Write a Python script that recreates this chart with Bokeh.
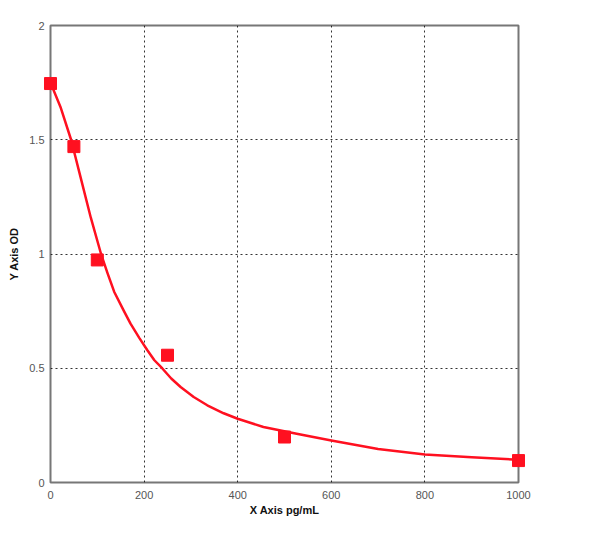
from bokeh.plotting import figure
from bokeh.embed import file_html
from bokeh.resources import INLINE
from bokeh.models import FixedTicker, Range1d

# Standard points (concentration pg/mL, OD)
std_conc = [0, 50, 100, 250, 500, 1000]
std_od = [1.746, 1.47, 0.974, 0.557, 0.199, 0.096]

# Fitted curve
curve_x = [0, 22, 44, 65, 86, 108, 122, 136, 157, 171, 190, 207, 222, 239, 258, 278, 306, 335, 370, 400,
           455, 526, 600, 700, 800, 900, 1000]
curve_y = [1.75, 1.64, 1.50, 1.33, 1.16, 1.00, 0.915, 0.835, 0.75, 0.695, 0.632, 0.579, 0.535, 0.499,
           0.455, 0.418, 0.374, 0.338, 0.303, 0.279, 0.243, 0.213, 0.184, 0.147, 0.123, 0.11, 0.10]

x_ticks = [0, 200, 400, 600, 800, 1000]
y_ticks = [0, 0.5, 1, 1.5, 2]
y_tick_labels = {0: "0", 0.5: "0.5", 1: "1", 1.5: "1.5", 2: "2"}

p = figure(frame_width=468, frame_height=457, output_backend="svg", toolbar_location=None,
           x_range=Range1d(0, 1000), y_range=Range1d(0, 2),
           min_border_left=50, min_border_top=25, min_border_right=30, min_border_bottom=40)
p.background_fill_color = "white"
p.border_fill_color = "white"
p.outline_line_color = "#777777"
p.outline_line_width = 2

for ax in (p.xaxis[0], p.yaxis[0]):
    ax.axis_line_color = None
    ax.major_tick_line_color = None
    ax.minor_tick_line_color = None
    ax.major_label_text_font = "Liberation Sans"
    ax.major_label_text_font_size = "11px"
    ax.major_label_text_color = "#555555"
    ax.axis_label_text_font = "Liberation Sans"
    ax.axis_label_text_font_size = "11px"
    ax.axis_label_text_font_style = "bold"
    ax.axis_label_text_color = "#111111"

p.xaxis.ticker = FixedTicker(ticks=x_ticks)
p.yaxis.ticker = FixedTicker(ticks=y_ticks)
p.yaxis.major_label_overrides = y_tick_labels
p.xaxis.axis_label = "X Axis pg/mL"
p.yaxis.axis_label = "Y Axis OD"
p.xaxis.major_label_standoff = 2
p.yaxis.major_label_standoff = 0
p.xaxis.axis_label_standoff = 2
p.yaxis.axis_label_standoff = 6

p.grid.grid_line_color = "black"
p.grid.grid_line_dash = "2 3"
p.grid.grid_line_width = 1
p.grid.grid_line_alpha = 0.8

p.line(curve_x, curve_y, line_color="#ff1020", line_width=2.5, line_join="round")
p.scatter(std_conc, std_od, marker="square", size=12, fill_color="#ff1020", line_color="#ff1020",
          level="overlay")

open("out.html", "w").write(file_html(p, INLINE))
